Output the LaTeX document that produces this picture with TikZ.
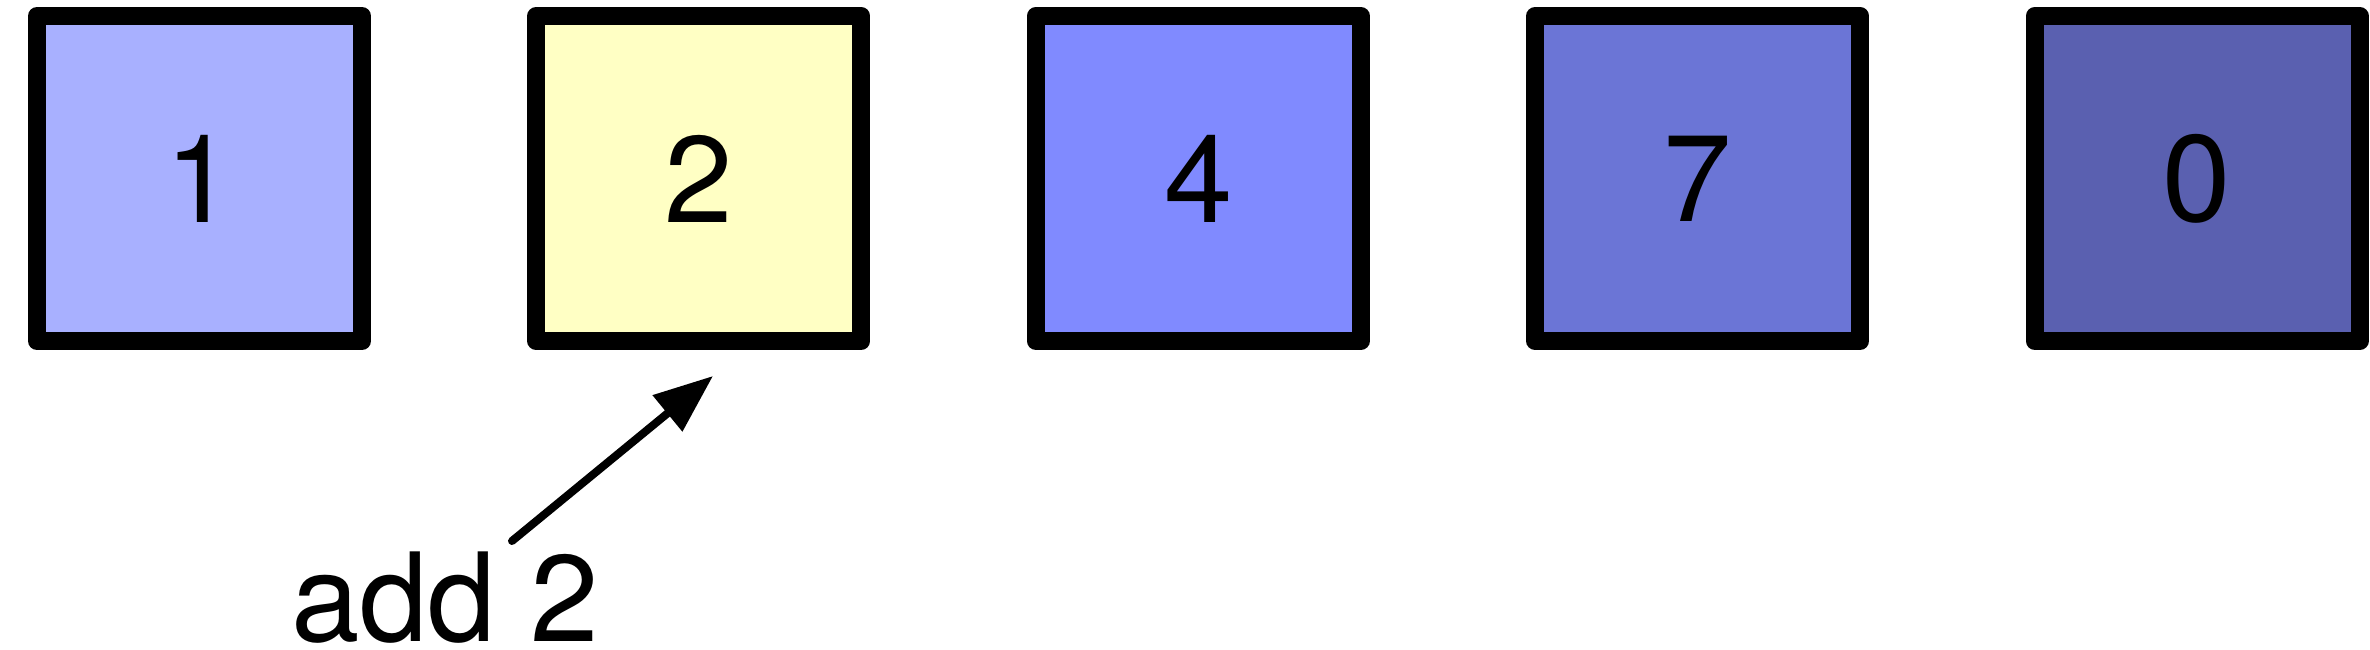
\documentclass[tikz,border=0pt]{standalone}
\usepackage{fontspec}
\setmainfont{TeX Gyre Heros}
\usepackage{xcolor}
\usetikzlibrary{positioning,arrows.meta}

\definecolor{cellone}{HTML}{A8B0FF}
\definecolor{celltwo}{HTML}{FFFFC4}
\definecolor{cellfour}{HTML}{808AFF}
\definecolor{cellseven}{HTML}{6B75D6}
\definecolor{cellzero}{HTML}{5A60B0}

\begin{document}
\begin{tikzpicture}[
    x = 1pt, y = 1pt,
    > = {Triangle[length=29.5pt, width=22.5pt]},
    node distance = 87.2pt,
    font = \fontsize{61.5}{74}\selectfont,
    cell/.style={rectangle, draw, line width=9pt, line join=round,
        minimum size=162.5pt, inner sep=0pt, outer sep=0pt}
]
    \useasboundingbox (0,0) rectangle (1185,324.5);

    \node[cell, fill=cellone] (c1) at (99.75,235.25) {1};
    \node[cell, fill=celltwo, right=of c1] (c2) {2};
    \node[cell, fill=cellfour, right=of c2] (c3) {4};
    \node[cell, fill=cellseven, right=of c3] (c4) {7};
    \node[cell, fill=cellzero, right=of c4] (c5) {0};

    \node[anchor=base] (op) at (222.5,4) {add 2};
    \coordinate (tail) at (256,54);
    \coordinate (head) at (356.5,136.5);

    \draw[->, line width=4pt, line cap=round] (tail) -- (head);
\end{tikzpicture}
\end{document}
